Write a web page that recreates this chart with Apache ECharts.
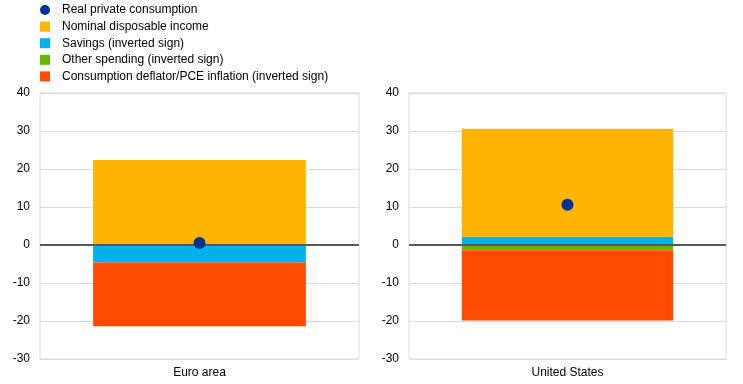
<!DOCTYPE html>
<html><head><meta charset="utf-8">
<script src="https://cdn.jsdelivr.net/npm/echarts@6/dist/echarts.min.js"></script>
<style>html,body{margin:0;padding:0;background:#fff}#c{width:743px;height:384px}</style>
</head><body><div id="c"></div>
<script>
var categories = ['Euro area', 'United States'];
var realConsumption = [0.5, 10.6];
var nominalIncome = [22.4, 28.4];
var savings = [-4.6, 2.2];
var otherSpending = [0, -1.4];
var inflation = [-16.8, -18.5];
var yTicks = [-30, -20, -10, 0, 10, 20, 30, 40];

var names = ['Real private consumption', 'Nominal disposable income', 'Savings (inverted sign)', 'Other spending (inverted sign)', 'Consumption deflator/PCE inflation (inverted sign)'];
var colors = {navy:'#003299', orange:'#FFB400', blue:'#00B1EA', green:'#65B800', red:'#FF4B00'};
var font = 'Liberation Sans, Arial, sans-serif';

var grids = [
  {left:40, right:384, top:93, bottom:25, show:true, borderColor:'#d9d9d9', borderWidth:1},
  {left:409, right:17, top:93, bottom:25, show:true, borderColor:'#d9d9d9', borderWidth:1}
];
var xAxes = [], yAxes = [], series = [];
categories.forEach(function(cat, i){
  xAxes.push({type:'category', gridIndex:i, data:[cat], axisLine:{show:false}, axisTick:{show:false},
    axisLabel:{color:'#000', fontSize:12, fontFamily:font, margin:8}});
  yAxes.push({type:'value', gridIndex:i, min:yTicks[0], max:yTicks[yTicks.length-1], interval:10,
    axisLine:{show:false}, axisTick:{show:false},
    axisLabel:{color:'#000', fontSize:12, fontFamily:font, margin:10},
    splitLine:{lineStyle:{color:'#d9d9d9', width:1}}});
  var bw = '66.7%';
  series.push({name:names[2], type:'bar', stack:'s'+i, xAxisIndex:i, yAxisIndex:i, barWidth:bw, data:[savings[i]], itemStyle:{color:colors.blue},
    markLine:{silent:true, symbol:'none', label:{show:false}, lineStyle:{color:'#595959', width:2, type:'solid'}, data:[{yAxis:0}]}, z:2});
  series.push({name:names[3], type:'bar', stack:'s'+i, xAxisIndex:i, yAxisIndex:i, barWidth:bw, data:[otherSpending[i]], itemStyle:{color:colors.green}});
  series.push({name:names[4], type:'bar', stack:'s'+i, xAxisIndex:i, yAxisIndex:i, barWidth:bw, data:[inflation[i]], itemStyle:{color:colors.red}});
  series.push({name:names[1], type:'bar', stack:'s'+i, xAxisIndex:i, yAxisIndex:i, barWidth:bw, data:[nominalIncome[i]], itemStyle:{color:colors.orange}});
  series.push({name:names[0], type:'scatter', xAxisIndex:i, yAxisIndex:i, data:[realConsumption[i]], symbolSize:12, itemStyle:{color:colors.navy, opacity:1}, z:5});
});

var chart = echarts.init(document.getElementById('c'), null, {renderer:'canvas'});
chart.setOption({
  animation:false,
  legend:{orient:'vertical', left:40, top:3, padding:0, itemWidth:10, itemHeight:10, itemGap:2.6,
    textStyle:{color:'#000', fontSize:12, fontFamily:font, lineHeight:14, padding:[0,0,0,7]},
    data:[{name:names[0], icon:'circle'}, {name:names[1], icon:'rect'}, {name:names[2], icon:'rect'}, {name:names[3], icon:'rect'}, {name:names[4], icon:'rect'}]},
  grid:grids, xAxis:xAxes, yAxis:yAxes, series:series
});
</script></body></html>
